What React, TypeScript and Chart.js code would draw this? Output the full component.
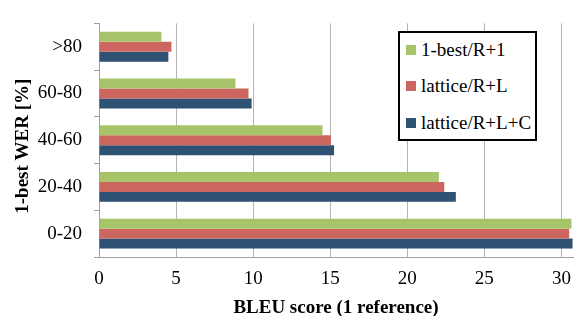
import React, { useEffect, useRef } from "react";
import { Chart, registerables } from "chart.js";

Chart.register(...registerables);

const categories = [">80", "60-80", "40-60", "20-40", "0-20"];
const series1Best = [4.05, 8.85, 14.5, 22.05, 30.65];
const seriesLatticeL = [4.7, 9.7, 15.05, 22.4, 30.5];
const seriesLatticeLC = [4.5, 9.9, 15.25, 23.15, 30.72];
const seriesNames = ["1-best/R+1", "lattice/R+L", "lattice/R+L+C"];
const seriesColors = ["#A8C46A", "#CE6660", "#2F5174"];
const xTicks = [0, 5, 10, 15, 20, 25, 30];
const yTitle = "1-best WER [%]";

const FONT = "'Liberation Serif', 'Times New Roman', serif";

const yTitlePlugin = {
  id: "yTitlePlugin",
  afterDraw(chart: any) {
    const ctx = chart.ctx;
    const area = chart.chartArea;
    ctx.save();
    ctx.translate(23, (area.top + area.bottom) / 2 + 6);
    ctx.rotate(-Math.PI / 2);
    ctx.font = `bold 19px ${FONT}`;
    ctx.fillStyle = "#000";
    ctx.textAlign = "center";
    ctx.textBaseline = "middle";
    ctx.fillText(yTitle, 0, 0);
    ctx.restore();
  },
};

export default function App() {
  const canvasRef = useRef<HTMLCanvasElement | null>(null);

  useEffect(() => {
    const canvas = canvasRef.current;
    if (!canvas) return;
    const chart = new Chart(canvas, {
      type: "bar",
      data: {
        labels: categories,
        datasets: [series1Best, seriesLatticeL, seriesLatticeLC].map((d, i) => ({
          label: seriesNames[i],
          data: d,
          backgroundColor: seriesColors[i],
          borderWidth: 0,
          categoryPercentage: 0.64,
          barPercentage: 1.0,
        })),
      },
      options: {
        indexAxis: "y",
        responsive: false,
        animation: false,
        layout: { padding: { left: 0, right: 1, top: 15, bottom: 0 } },
        plugins: {
          legend: { display: false },
          tooltip: { enabled: false },
        },
        scales: {
          x: {
            type: "linear",
            min: 0,
            max: 30.75,
            afterBuildTicks: (scale: any) => {
              scale.ticks = xTicks.map((v) => ({ value: v }));
            },
            afterFit: (scale: any) => {
              scale.height = 59;
              scale.paddingLeft = 0;
              scale.paddingRight = 0;
            },
            grid: {
              color: "#B4B4B4",
              lineWidth: 1,
              drawTicks: false,
            },
            border: { display: true, color: "#A0A0A0" },
            ticks: {
              color: "#000",
              padding: 11,
              font: { family: FONT, size: 19 },
            },
            title: {
              display: true,
              text: "BLEU score (1 reference)",
              color: "#000",
              padding: { top: 0, bottom: -3 },
              font: { family: FONT, size: 19, weight: "bold" },
            },
          },
          y: {
            type: "category",
            afterFit: (scale: any) => {
              scale.width = 99;
            },
            grid: {
              offset: true,
              drawOnChartArea: false,
              drawTicks: true,
              tickLength: 5,
              color: "#A0A0A0",
            },
            border: { display: true, color: "#A0A0A0" },
            ticks: {
              color: "#000",
              padding: 12,
              font: { family: FONT, size: 19 },
            },
            title: { display: false },
          },
        },
      },
      plugins: [yTitlePlugin],
    });
    return () => chart.destroy();
  }, []);

  const rowTops = [19, 55, 92];

  return (
    <div style={{ position: "absolute", left: 0, top: 0, width: 574, height: 316, background: "#fff" }}>
      <canvas ref={canvasRef} width={574} height={316} style={{ display: "block" }} />
      <div
        style={{
          position: "absolute",
          left: 398,
          top: 31,
          width: 139,
          height: 110,
          border: "2px solid #000",
          boxSizing: "border-box",
          background: "#fff",
        }}
      >
        {seriesNames.map((name, i) => (
          <div
            key={name}
            style={{
              position: "absolute",
              left: 6,
              top: rowTops[i] - 2 - 12,
              height: 24,
              display: "flex",
              alignItems: "center",
              whiteSpace: "nowrap",
            }}
          >
            <span
              style={{
                display: "inline-block",
                width: 10,
                height: 10,
                background: seriesColors[i],
                marginRight: 5,
              }}
            />
            <span style={{ fontFamily: FONT, fontSize: 19, color: "#000", lineHeight: "24px" }}>{name}</span>
          </div>
        ))}
      </div>
    </div>
  );
}
